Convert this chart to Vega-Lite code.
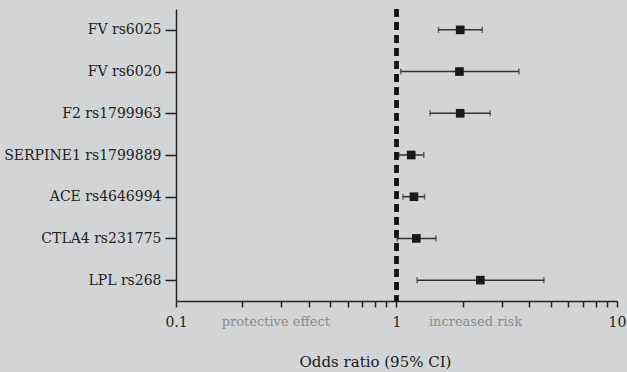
{
  "$schema": "https://vega.github.io/schema/vega-lite/v6.json",
  "autosize": "none",
  "width": 441,
  "height": 292,
  "padding": {"left": 176, "top": 9, "right": 10, "bottom": 71},
  "background": "#d3d4d6",
  "config": {
    "view": {"stroke": null},
    "font": "DejaVu Serif"
  },
  "data": {
    "values": [
      {"snp": "FV rs6025", "or": 1.945, "lo": 1.55, "hi": 2.45},
      {"snp": "FV rs6020", "or": 1.93, "lo": 1.046, "hi": 3.59},
      {"snp": "F2 rs1799963", "or": 1.945, "lo": 1.42, "hi": 2.66},
      {"snp": "SERPINE1 rs1799889", "or": 1.166, "lo": 1.025, "hi": 1.33},
      {"snp": "ACE rs4646994", "or": 1.2, "lo": 1.07, "hi": 1.34},
      {"snp": "CTLA4 rs231775", "or": 1.23, "lo": 1.007, "hi": 1.51},
      {"snp": "LPL rs268", "or": 2.4, "lo": 1.24, "hi": 4.66}
    ]
  },
  "layer": [
    {
      "mark": {"type": "rule", "color": "#111111", "strokeWidth": 3.5, "strokeDash": [8, 5]},
      "encoding": {
        "x": {"datum": 1, "type": "quantitative", "scale": {"type": "log", "domain": [0.1, 10]}}
      }
    },
    {
      "mark": {"type": "rule", "color": "#333333", "strokeWidth": 1.5},
      "encoding": {
        "y": {
          "field": "snp", "type": "nominal", "sort": null,
          "scale": {"type": "point", "padding": 0.5},
          "axis": {
            "title": null,
            "labelFontSize": 14,
            "labelColor": "#222222",
            "labelPadding": 4,
            "labelLimit": 300,
            "tickSize": 11,
            "tickWidth": 1.5,
            "tickColor": "#222222",
            "domainColor": "#222222",
            "domainWidth": 1.5
          }
        },
        "x": {
          "field": "lo", "type": "quantitative",
          "scale": {"type": "log", "domain": [0.1, 10]},
          "axis": {
            "title": "Odds ratio (95% CI)",
            "titleFontSize": 15,
            "titleFontWeight": "normal",
            "titleColor": "#1a1a1a",
            "titleX": 199,
            "titleY": 53,
            "titleAlign": "center",
            "titleBaseline": "top",
            "grid": false,
            "values": [0.1, 0.2, 0.282, 0.3, 0.4, 0.5, 0.6, 0.7, 0.8, 0.9, 1, 2, 2.27, 3, 4, 5, 6, 7, 8, 9, 10],
            "labelExpr": "datum.value == 0.1 ? '0.1' : datum.value == 1 ? '1' : datum.value == 10 ? '10' : datum.value == 0.282 ? 'protective effect' : datum.value == 2.27 ? 'increased risk' : ''",
            "labelOverlap": false,
            "labelFlush": false,
            "labelBound": false,
            "labelFontSize": {"condition": {"test": "datum.value == 0.282 || datum.value == 2.27", "value": 13}, "value": 14},
            "labelPadding": 8,
            "labelColor": {"condition": {"test": "datum.value == 0.282 || datum.value == 2.27", "value": "#8c8c8c"}, "value": "#222222"},
            "tickOpacity": {"condition": {"test": "datum.value == 0.282 || datum.value == 2.27", "value": 0}, "value": 1},
            "tickSize": 6,
            "tickWidth": 1.5,
            "tickColor": "#222222",
            "domainColor": "#222222",
            "domainWidth": 1.5
          }
        },
        "x2": {"field": "hi"}
      }
    },
    {
      "mark": {"type": "tick", "color": "#333333", "thickness": 1.5, "size": 6},
      "encoding": {
        "y": {"field": "snp", "type": "nominal", "sort": null},
        "x": {"field": "lo", "type": "quantitative"}
      }
    },
    {
      "mark": {"type": "tick", "color": "#333333", "thickness": 1.5, "size": 6},
      "encoding": {
        "y": {"field": "snp", "type": "nominal", "sort": null},
        "x": {"field": "hi", "type": "quantitative"}
      }
    },
    {
      "mark": {"type": "point", "shape": "square", "filled": true, "size": 75, "color": "#1a1a1a", "opacity": 1},
      "encoding": {
        "y": {"field": "snp", "type": "nominal", "sort": null},
        "x": {"field": "or", "type": "quantitative"}
      }
    }
  ]
}
